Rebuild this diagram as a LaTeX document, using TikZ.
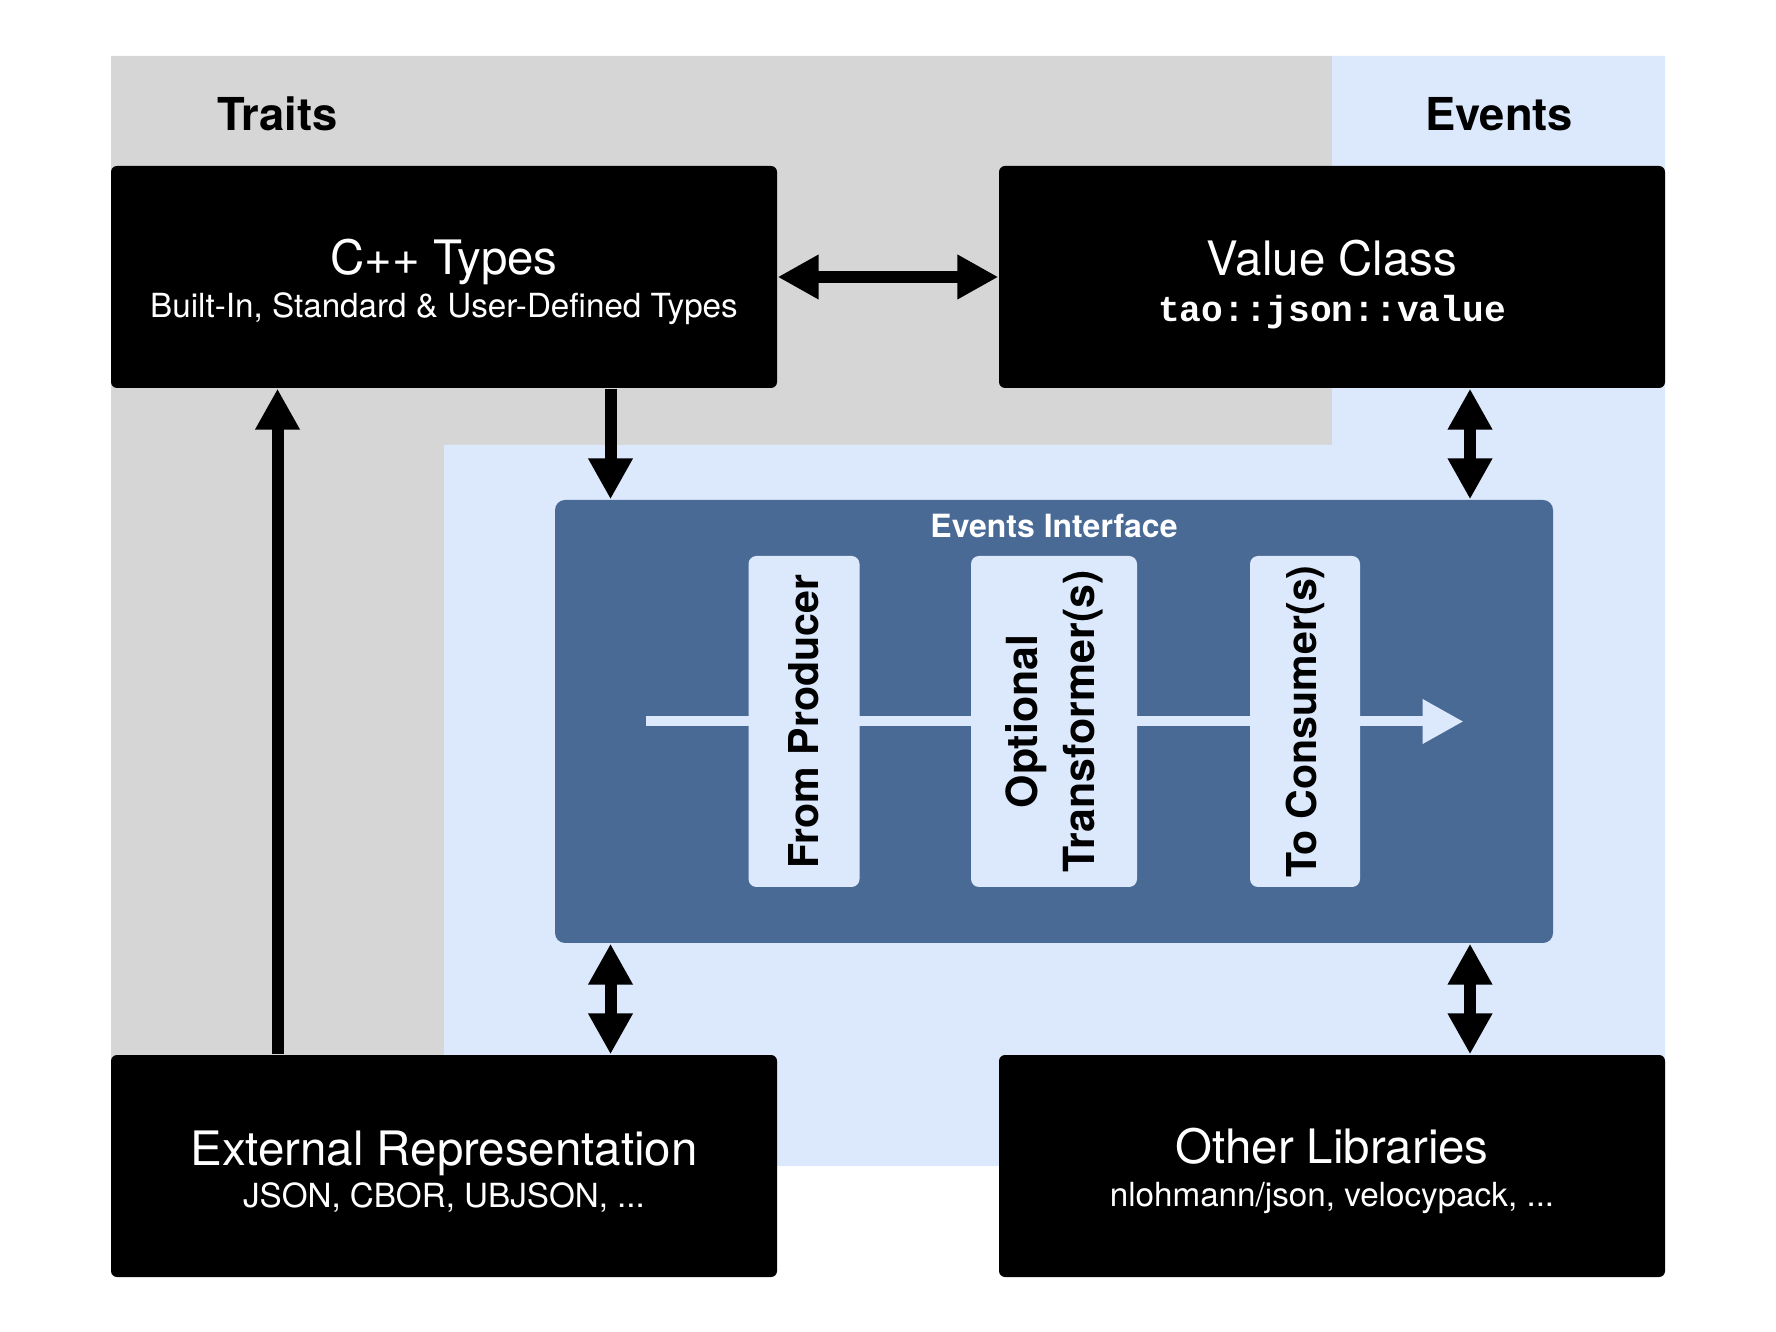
\documentclass[tikz,border=0pt]{standalone}
\usepackage{fontspec}
\setmainfont{TeX Gyre Heros}
\setmonofont{Liberation Mono}
\usetikzlibrary{arrows.meta,positioning}

\definecolor{traitsgray}{HTML}{D6D6D6}
\definecolor{eventsblue}{HTML}{DCE9FC}
\definecolor{ifaceblue}{HTML}{4A6A96}

\newcommand\boxtitle{\fontsize{13.5}{15}\selectfont}
\newcommand\boxsub{\fontsize{9.45}{11}\selectfont}

\tikzset{
  blk/.style={fill=black, text=white, rounded corners=0.06cm, minimum width=6.66cm,
    minimum height=2.22cm, align=center, inner sep=0},
  stage/.style={fill=eventsblue, rounded corners=0.08cm, rotate=90, minimum width=3.31cm,
    align=center, inner sep=0, font=\bfseries\fontsize{11.7}{15.8}\selectfont},
  area/.style={font=\bfseries\fontsize{12.9}{15}\selectfont},
  flow/.style={line width=0.12cm},
}

\begin{document}
\begin{tikzpicture}[>={Triangle[length=0.41cm,width=0.42cm]}]
        \useasboundingbox (0,0) rectangle (17.76,-13.32);
        % Areas
        \fill[traitsgray] (1.11,-0.56) -- (13.32,-0.56) -- (13.32,-4.45) -- (4.44,-4.45)
            -- (4.44,-11.0) -- (1.11,-11.0) -- cycle;
        \fill[eventsblue] (13.32,-0.56) -- (16.65,-0.56) -- (16.65,-11.66) -- (4.44,-11.66)
            -- (4.44,-4.45) -- (13.32,-4.45) -- cycle;
        \node[area] (traits) at (2.775,-1.14) {Traits};
        \node[area] (events) at (14.99,-1.14) {Events};
        % Nodes
        \node[blk] (cpp) at (4.44,-2.77) {\\[0.03cm]{\boxtitle C++ Types}\\{\boxsub Built-In, Standard \& User-Defined Types}};
        \node[blk] (value) at (13.32,-2.77) {\\[0.075cm]{\boxtitle Value Class}\\[0.037cm]{\fontsize{10.3}{11}\selectfont\ttfamily\bfseries tao::json::value}};
        \node[blk] (extrep) at (4.44,-11.66) {\\[0.03cm]{\boxtitle External Representation}\\{\boxsub JSON, CBOR, UBJSON, ...}};
        \node[blk] (others) at (13.32,-11.66) {\\[0.03cm]{\boxtitle Other Libraries}\\{\boxsub nlohmann/json, velocypack, ...}};
        \node[fill=ifaceblue, rounded corners=0.1cm, minimum width=9.98cm, minimum height=4.43cm] (iface) at (10.54,-7.215) {};
        \node[anchor=north, text=white, inner sep=0, font=\bfseries\fontsize{9.1}{11}\selectfont] (ifacelabel)
            at ([yshift=-0.14cm]iface.north) {Events Interface};
        \coordinate (flowin) at (6.456,-7.215);
        \coordinate (flowout) at (14.635,-7.215);
        \draw[->, eventsblue, line width=0.10cm] (flowin) -- (flowout);
        \node[stage, minimum height=1.11cm] (producer) at ([xshift=-2.5cm]iface.center) {From Producer};
        \node[stage, minimum height=1.66cm, font=\bfseries\fontsize{12.2}{16.2}\selectfont] (transformer) at (iface.center) {Optional\\Transformer(s)};
        \node[stage, minimum height=1.10cm] (consumer) at ([xshift=2.51cm]iface.center) {To Consumer(s)};
        \coordinate (leftlane) at (6.105,0);
        \coordinate (rightlane) at (14.70,0);
        % Arrows
        \draw[<->, flow] (cpp) -- (value);
        \draw[->, flow] (cpp.south -| leftlane) -- (iface.north -| leftlane);
        \draw[<->, flow] (value.south -| rightlane) -- (iface.north -| rightlane);
        \draw[<->, flow] (iface.south -| leftlane) -- (extrep.north -| leftlane);
        \draw[<->, flow] (iface.south -| rightlane) -- (others.north -| rightlane);
        \draw[->, flow] (extrep.north -| traits) -- (cpp.south -| traits);
\end{tikzpicture}
\end{document}
